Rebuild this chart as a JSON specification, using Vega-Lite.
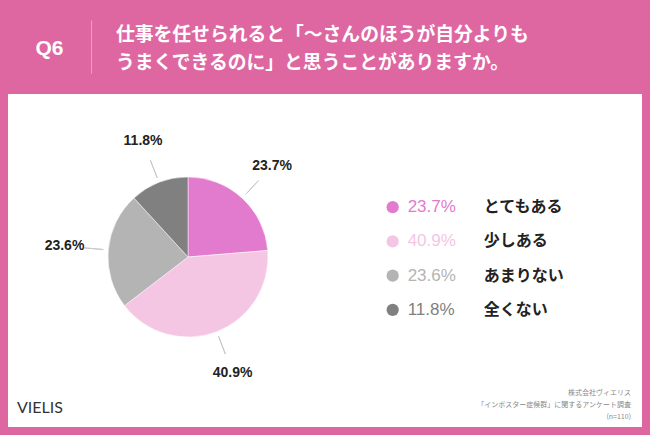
{
  "$schema": "https://vega.github.io/schema/vega-lite/v6.json",
  "background": "#DE67A2",
  "padding": {"left": 8, "top": 0, "right": 8, "bottom": 8},
  "config": {"view": {"stroke": null}, "font": "Noto Sans CJK JP"},
  "datasets": {
    "answers": [
      {"category": "とてもある", "share": 0.237, "rank": 1},
      {"category": "少しある", "share": 0.409, "rank": 2},
      {"category": "あまりない", "share": 0.236, "rank": 3},
      {"category": "全くない", "share": 0.118, "rank": 4}
    ]
  },
  "spacing": 0,
  "vconcat": [
    {
      "spacing": 0,
      "bounds": "flush",
      "center": true,
      "hconcat": [
        {
          "width": 83, "height": 94,
          "data": {"values": [{}]},
          "mark": {"type": "text", "text": "Q6", "font": "Liberation Sans", "fontSize": 21, "fontWeight": "bold", "color": "white", "baseline": "middle", "dy": 2},
          "encoding": {}
        },
        {
          "width": 1, "height": 53,
          "view": {"fill": "#EA9FC7", "stroke": null},
          "data": {"values": [{}]},
          "mark": {"type": "text", "text": ""},
          "encoding": {}
        },
        {
          "width": 48, "height": 94,
          "data": {"values": [{}]},
          "mark": {"type": "text", "text": ["仕事を任せられると「〜さんのほうが自分よりも", "うまくできるのに」と思うことがありますか。"], "align": "left", "baseline": "middle", "dy": -12, "lineHeight": 28, "fontSize": 18.8, "fontWeight": "bold", "color": "white"},
          "encoding": {}
        }
      ]
    },
    {
      "spacing": 0,
      "hconcat": [
        {
          "spacing": 0,
          "bounds": "flush",
          "vconcat": [
            {
              "width": 360, "height": 326,
              "view": {"fill": "white", "stroke": null},
              "data": {"name": "answers"},
              "title": {"text": "VIELIS", "orient": "bottom", "anchor": "start", "frame": "group", "offset": -12, "dx": 9, "baseline": "middle", "font": "Lato", "fontSize": 16, "fontWeight": 400, "color": "#333333"},
              "encoding": {
                "theta": {"field": "share", "type": "quantitative", "stack": true},
                "order": {"field": "rank", "type": "quantitative"}
              },
              "layer": [
                {
                  "mark": {"type": "arc", "outerRadius": 80, "stroke": "white", "strokeWidth": 0.5},
                  "encoding": {
                    "color": {"field": "category", "type": "nominal", "legend": null,
                      "scale": {"domain": ["とてもある", "少しある", "あまりない", "全くない"], "range": ["#E27BCE", "#F5C5E4", "#B4B4B4", "#808080"]}}
                  }
                },
                {
                  "mark": {"type": "arc", "innerRadius": 85, "outerRadius": 104, "padAngle": 3.14, "filled": false, "color": "#C8C8C8", "strokeWidth": 1}
                },
                {
                  "mark": {"type": "text", "radius": 124, "font": "Liberation Sans", "fontSize": 14, "fontWeight": "bold", "color": "#222222"},
                  "encoding": {"text": {"field": "share", "type": "quantitative", "format": ".1%"}}
                }
              ]
            },
            {
              "width": 360, "height": 7,
              "view": {"fill": "white", "stroke": null},
              "data": {"values": [{}]},
              "mark": {"type": "text", "text": ""},
              "encoding": {}
            }
          ]
        },
        {
          "spacing": 0,
          "bounds": "flush",
          "vconcat": [
            {
              "width": 274, "height": 96,
              "view": {"fill": "white", "stroke": null},
              "data": {"values": [{}]},
              "mark": {"type": "text", "text": ""},
              "encoding": {}
            },
            {
              "width": 274, "height": 137,
              "view": {"fill": "white", "stroke": null},
              "data": {"name": "answers"},
              "encoding": {
                "x": {"datum": "legend", "type": "nominal", "axis": null, "scale": {"type": "point", "align": 0.09}},
                "y": {"field": "category", "type": "nominal", "axis": null, "sort": ["とてもある", "少しある", "あまりない", "全くない"], "scale": {"type": "point", "padding": 0.5}}
              },
              "layer": [
                {
                  "mark": {"type": "circle", "size": 150, "opacity": 1},
                  "encoding": {
                    "color": {"field": "category", "type": "nominal", "legend": null,
                      "scale": {"domain": ["とてもある", "少しある", "あまりない", "全くない"], "range": ["#E27BCE", "#F5C5E4", "#B4B4B4", "#808080"]}}
                  }
                },
                {
                  "mark": {"type": "text", "align": "left", "baseline": "middle", "dx": 15, "font": "Liberation Sans", "fontSize": 17},
                  "encoding": {
                    "text": {"field": "share", "type": "quantitative", "format": ".1%"},
                    "color": {"field": "category", "type": "nominal", "legend": null,
                      "scale": {"domain": ["とてもある", "少しある", "あまりない", "全くない"], "range": ["#E27BCE", "#F5C5E4", "#B4B4B4", "#808080"]}}
                  }
                },
                {
                  "mark": {"type": "text", "align": "left", "baseline": "middle", "dx": 91, "fontSize": 16, "fontWeight": "bold", "color": "#222222"},
                  "encoding": {"text": {"field": "category", "type": "nominal"}}
                }
              ]
            },
            {
              "width": 274, "height": 100,
              "view": {"fill": "white", "stroke": null},
              "data": {"values": [{}]},
              "title": {"text": ["株式会社ヴィエリス", "「インポスター症候群」に関するアンケート調査", "(n=110)"], "orient": "bottom", "anchor": "end", "frame": "group", "offset": -34, "dx": -11, "baseline": "middle", "fontSize": 7, "fontWeight": "normal", "color": "#8A8A8A", "lineHeight": 12},
              "mark": {"type": "text", "text": ""},
              "encoding": {}
            }
          ]
        }
      ]
    }
  ]
}
